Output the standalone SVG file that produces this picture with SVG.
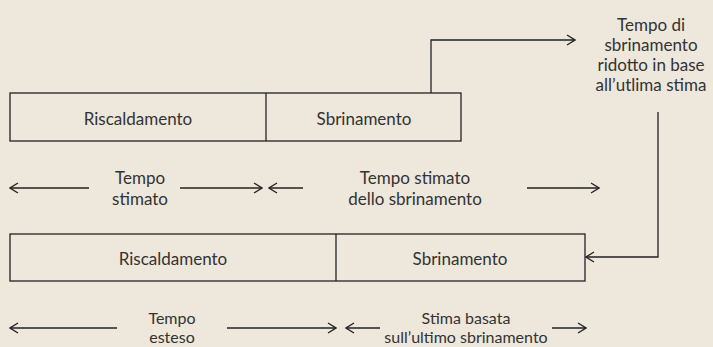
<svg xmlns="http://www.w3.org/2000/svg" width="713" height="347" viewBox="0 0 713 347">
<defs>
<style>
.t{font-family:Lato,"Noto Sans",sans-serif;font-size:17px;fill:#333;text-anchor:middle}
.s{font-size:16px}
.box{fill:none;stroke:#222;stroke-width:1.3}
.ln{fill:none;stroke:#222;stroke-width:1.3}
</style>
<marker id="ah" viewBox="0 0 10 12" refX="9" refY="6" markerWidth="10" markerHeight="12" markerUnits="userSpaceOnUse" orient="auto">
<path d="M1,1 L9,6 L1,11" fill="none" stroke="#222" stroke-width="1.3"/>
</marker>
</defs>
<rect width="713" height="347" fill="#ede7dc"/>
<g id="bar1">
<rect class="box" x="10" y="93" width="451" height="48"/>
<line class="ln" x1="266" y1="93" x2="266" y2="141"/>
<text class="t" x="138" y="125">Riscaldamento</text>
<text class="t" x="364" y="125">Sbrinamento</text>
</g>
<g id="bar2">
<rect class="box" x="10" y="234" width="575" height="47"/>
<line class="ln" x1="336" y1="234" x2="336" y2="281"/>
<text class="t" x="173" y="265">Riscaldamento</text>
<text class="t" x="460" y="265">Sbrinamento</text>
</g>
<g id="note">
<text class="t" x="651" y="31">Tempo di</text>
<text class="t" x="651" y="51">sbrinamento</text>
<text class="t" x="651" y="71">ridotto in base</text>
<text class="t" x="651" y="91">all’utlima stima</text>
</g>
<g id="label-tempo-stimato">
<text class="t" x="140" y="184">Tempo</text>
<text class="t" x="140" y="205">stimato</text>
</g>
<g id="label-sbrinamento-stimato">
<text class="t" x="415" y="184">Tempo stimato</text>
<text class="t" x="415" y="205">dello sbrinamento</text>
</g>
<g id="label-tempo-esteso">
<text class="t s" x="172" y="324">Tempo</text>
<text class="t s" x="172" y="343">esteso</text>
</g>
<g id="label-stima-basata">
<text class="t s" x="466" y="324">Stima basata</text>
<text class="t s" x="466" y="343">sull’ultimo sbrinamento</text>
</g>
<g id="connectors">
<polyline class="ln" points="431,93 431,40 575,40" marker-end="url(#ah)"/>
<polyline class="ln" points="658,112 658,257 586,257" marker-end="url(#ah)"/>
<line class="ln" x1="89" y1="188" x2="10" y2="188" marker-end="url(#ah)"/>
<line class="ln" x1="180" y1="188" x2="262" y2="188" marker-end="url(#ah)"/>
<line class="ln" x1="303" y1="188" x2="269" y2="188" marker-end="url(#ah)"/>
<line class="ln" x1="527" y1="188" x2="599" y2="188" marker-end="url(#ah)"/>
<line class="ln" x1="117" y1="328" x2="10" y2="328" marker-end="url(#ah)"/>
<line class="ln" x1="227" y1="328" x2="336" y2="328" marker-end="url(#ah)"/>
<line class="ln" x1="380" y1="328" x2="346" y2="328" marker-end="url(#ah)"/>
<line class="ln" x1="552" y1="328" x2="586" y2="328" marker-end="url(#ah)"/>
</g>
</svg>
